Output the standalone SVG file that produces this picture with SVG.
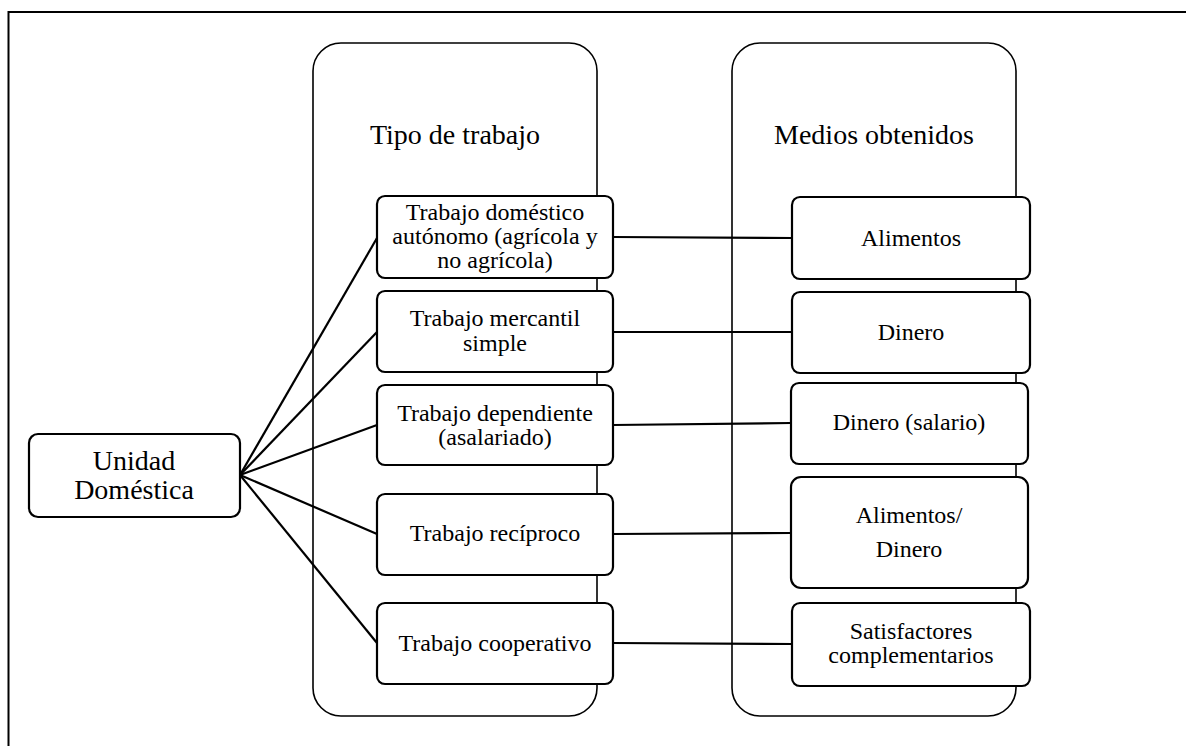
<svg xmlns="http://www.w3.org/2000/svg" width="1186" height="746" viewBox="0 0 1186 746">
<style>
text{font-family:"Liberation Serif","Times New Roman",serif;fill:#000;text-anchor:middle}
.t{font-size:24px}
.h{font-size:28px}
.box{fill:#fff;stroke:#000;stroke-width:2.2}
.cont{fill:#fff;stroke:#000;stroke-width:1.6}
.c line{stroke:#000;stroke-width:2.2}
</style>
<rect width="1186" height="746" fill="#fff"/>
<path d="M8.5 746V12H1186" fill="none" stroke="#000" stroke-width="2"/>
<g id="tipo-de-trabajo">
<rect class="cont" x="313" y="43" width="284" height="673" rx="28"/>
<text class="h" x="455" y="144">Tipo de trabajo</text>
</g>
<g id="medios-obtenidos">
<rect class="cont" x="732" y="43" width="284" height="673" rx="28"/>
<text class="h" x="874" y="144">Medios obtenidos</text>
</g>
<g class="c" id="connectors">
<line x1="240" y1="475" x2="377" y2="238"/>
<line x1="240" y1="475" x2="377" y2="332"/>
<line x1="240" y1="475" x2="377" y2="425"/>
<line x1="240" y1="475" x2="377" y2="534"/>
<line x1="240" y1="475" x2="377" y2="643"/>
<line x1="613" y1="237" x2="792" y2="238"/>
<line x1="613" y1="332" x2="792" y2="332"/>
<line x1="613" y1="425" x2="791" y2="423"/>
<line x1="613" y1="534" x2="791" y2="533"/>
<line x1="613" y1="643" x2="792" y2="644"/>
</g>
<g id="unidad">
<rect class="box" x="29" y="434" width="211" height="83" rx="9"/>
<text class="h" x="134" y="470">Unidad</text>
<text class="h" x="134" y="499">Doméstica</text>
</g>
<g id="t1">
<rect class="box" x="377" y="196" width="236" height="82" rx="8"/>
<text class="t" x="495" y="220">Trabajo doméstico</text>
<text class="t" x="495" y="244">autónomo (agrícola y</text>
<text class="t" x="495" y="268">no agrícola)</text>
</g>
<g id="t2">
<rect class="box" x="377" y="291" width="236" height="81" rx="8"/>
<text class="t" x="495" y="326">Trabajo mercantil</text>
<text class="t" x="495" y="351">simple</text>
</g>
<g id="t3">
<rect class="box" x="377" y="385" width="236" height="80" rx="8"/>
<text class="t" x="495" y="421">Trabajo dependiente</text>
<text class="t" x="495" y="445">(asalariado)</text>
</g>
<g id="t4">
<rect class="box" x="377" y="494" width="236" height="81" rx="8"/>
<text class="t" x="495" y="541">Trabajo recíproco</text>
</g>
<g id="t5">
<rect class="box" x="377" y="603" width="236" height="81" rx="8"/>
<text class="t" x="495" y="651">Trabajo cooperativo</text>
</g>
<g id="m1">
<rect class="box" x="792" y="197" width="238" height="82" rx="8"/>
<text class="t" x="911" y="246">Alimentos</text>
</g>
<g id="m2">
<rect class="box" x="792" y="292" width="238" height="81" rx="8"/>
<text class="t" x="911" y="340">Dinero</text>
</g>
<g id="m3">
<rect class="box" x="791" y="383" width="237" height="81" rx="8"/>
<text class="t" x="909" y="430">Dinero (salario)</text>
</g>
<g id="m4">
<rect class="box" x="791" y="477" width="237" height="111" rx="10"/>
<text class="t" x="909" y="523">Alimentos/</text>
<text class="t" x="909" y="557">Dinero</text>
</g>
<g id="m5">
<rect class="box" x="792" y="603" width="238" height="83" rx="8"/>
<text class="t" x="911" y="639">Satisfactores</text>
<text class="t" x="911" y="663">complementarios</text>
</g>
</svg>
